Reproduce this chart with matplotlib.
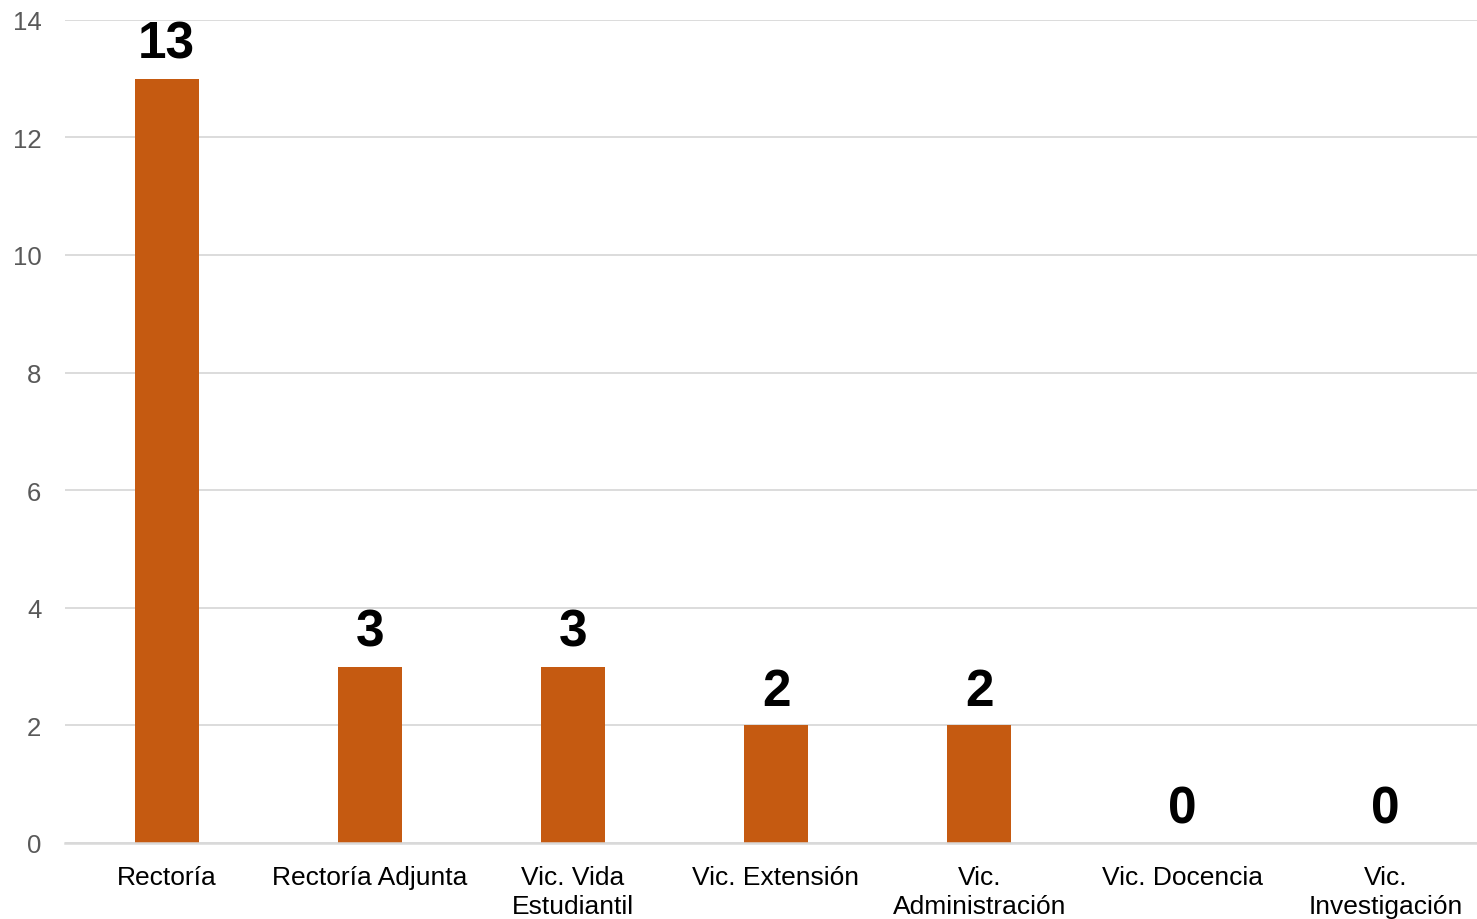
import matplotlib
matplotlib.use("Agg")
import matplotlib.pyplot as plt

categories = ["Rectoría", "Rectoría Adjunta", "Vic. Vida\nEstudiantil", "Vic. Extensión",
              "Vic.\nAdministración", "Vic. Docencia", "Vic.\nInvestigación"]
values = [13, 3, 3, 2, 2, 0, 0]
yticks = [0, 2, 4, 6, 8, 10, 12, 14]

plt.rcParams['font.family'] = ['Liberation Sans', 'DejaVu Sans']

W, H = 1477, 920
fig = plt.figure(figsize=(W / 100, H / 100), dpi=100)
top_px, bot_px = 20.7, 844.0
ax = fig.add_axes([65 / W, (H - bot_px) / H, (1487 - 65) / W, (bot_px - top_px) / H])

x = list(range(len(categories)))
ax.bar(x, values, width=0.315, color="#C55A11", zorder=3)

ax.set_xlim(-0.5, len(categories) - 0.5)
ax.set_ylim(0, 14)
ax.set_yticks(yticks)
ax.set_yticklabels([str(t) for t in yticks], fontsize=18.5, color="#595959")
ax.set_xticks(x)
ax.set_xticklabels(categories, fontsize=19, color="black", linespacing=1.28)
ax.tick_params(axis='y', length=0, pad=17)
ax.tick_params(axis='x', length=0, pad=15.5)

ax.grid(axis='y', color="#d9d9d9", linewidth=1.3, zorder=0)
for s in ["top", "right", "left"]:
    ax.spines[s].set_visible(False)
ax.spines["bottom"].set_color("#d9d9d9")
ax.spines["bottom"].set_linewidth(1.8)
ax.spines["bottom"].set_zorder(4)

for xi, v in zip(x, values):
    ax.annotate(str(v), (xi, v), xytext=(0, 15), textcoords="offset points",
                ha="center", va="baseline", fontsize=37, fontweight="bold", color="black")

fig.savefig("out.png", dpi=100)
